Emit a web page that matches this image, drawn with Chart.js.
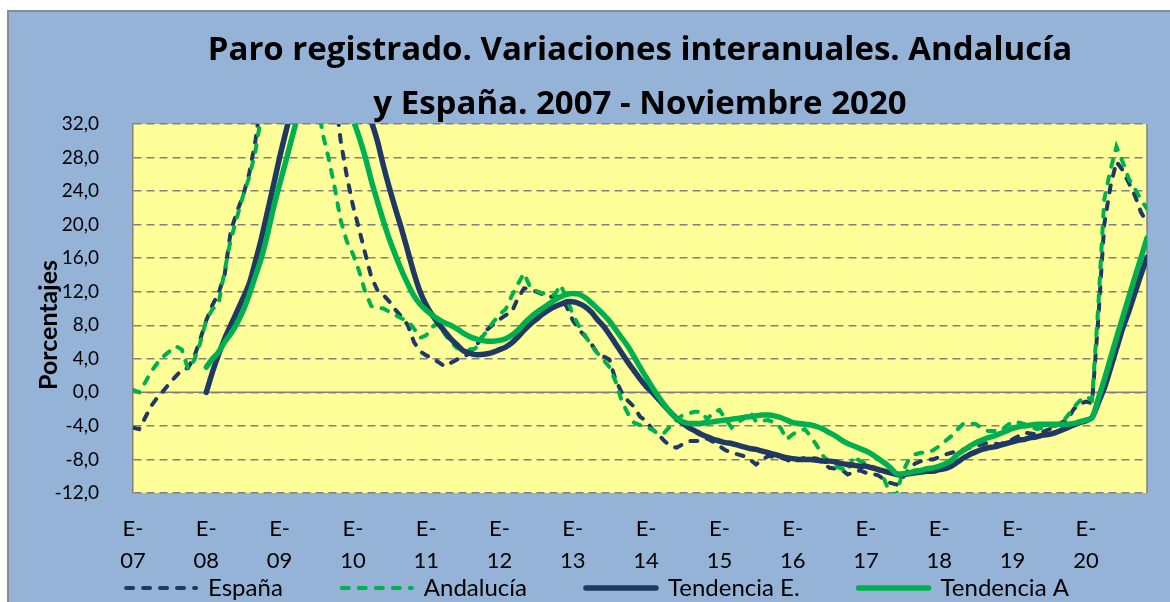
<!DOCTYPE html>
<html lang="es">
<head>
<meta charset="utf-8">
<title>Paro registrado. Variaciones interanuales</title>
<script src="https://cdn.jsdelivr.net/npm/chart.js@4.4.1/dist/chart.umd.min.js"></script>
<style>
  html, body { margin: 0; padding: 0; background: #ffffff; }
  #wrap { position: relative; width: 1170px; height: 602px; overflow: hidden; }
  #frame {
    position: absolute; left: 7px; top: 10px; width: 1200px; height: 640px;
    background: #95B3D7; border-top: 2px solid #8c8c8c; border-left: 2px solid #8c8c8c;
  }
  #paroChart { position: absolute; left: 0; top: 0; }
</style>
</head>
<body>
<div id="wrap">
  <div id="frame"></div>
  <canvas id="paroChart" width="1170" height="602"></canvas>
</div>
<script>
// years shown on the axis (E- = enero)
const years = ['07', '08', '09', '10', '11', '12', '13', '14', '15', '16', '17', '18', '19', '20'];
const lastMonth = 11; // noviembre 2020

const categories = [];
years.forEach((yy, k) => {
  const months = k === years.length - 1 ? lastMonth : 12;
  for (let m = 1; m <= months; m++) categories.push(m + '-' + yy);
});

// monthly year-on-year change, %
const espana = [
  -4.2, -4.4, -3.0, -1.6, -0.6, 0.2, 1.1, 1.9, 2.7, 2.9, 4.2, 6.3,
  8.6, 10.4, 11.8, 14.0, 19.2, 21.5, 23.4, 26.0, 29.8, 35.0, 40.0, 45.0,
  48.0, 51.0, 55.0, 58.0, 57.0, 56.0, 53.0, 48.0, 42.0, 36.0, 30.0, 25.8,
  22.3, 19.5, 16.6, 13.8, 12.2, 11.6, 10.8, 9.8, 9.0, 8.0, 6.0, 4.9,
  4.4, 4.1, 3.6, 3.1, 3.5, 3.9, 4.2, 4.6, 5.3, 6.5, 7.5, 8.1,
  8.7, 9.2, 9.6, 11.2, 12.4, 12.3, 12.0, 11.7, 11.4, 11.4, 11.4, 10.2,
  8.6, 7.5, 6.7, 5.8, 4.7, 4.3, 3.9, 1.5, 0.0, -1.0, -1.7, -2.9,
  -3.4, -4.4, -5.0, -5.8, -6.4, -6.6, -6.2, -5.8, -5.8, -5.8, -5.5, -5.9,
  -6.4, -6.9, -7.2, -7.4, -7.6, -8.0, -8.6, -8.0, -7.6, -7.7, -7.8, -8.0,
  -8.4, -8.0, -7.8, -7.8, -7.9, -8.4, -9.0, -9.1, -9.2, -9.8, -9.5, -9.3,
  -9.6, -9.7, -9.9, -10.4, -10.8, -11.0, -10.2, -9.2, -8.5, -8.2, -8.0, -8.0,
  -7.7, -7.4, -7.2, -7.0, -6.8, -6.6, -6.4, -6.2, -6.0, -6.1, -6.2, -5.8,
  -5.6, -5.2, -4.8, -4.9, -5.0, -4.7, -4.4, -4.0, -3.6, -3.3, -2.0, -1.4,
  -1.1, -1.3, 8.5, 20.0, 24.5, 27.5, 26.5, 25.0, 23.5, 21.5, 20.2
];

const andalucia = [
  0.3, 0.0, 1.2, 2.5, 3.5, 4.3, 4.9, 5.5, 5.1, 2.8, 3.8, 5.9,
  8.6, 9.9, 10.6, 14.5, 18.2, 20.8, 23.4, 25.6, 28.6, 33.0, 38.0, 42.0,
  45.0, 47.0, 48.0, 48.0, 46.0, 42.0, 36.0, 31.0, 28.0, 24.5, 20.5, 18.0,
  16.5, 14.5, 12.0, 10.3, 10.1, 10.0, 9.6, 9.2, 8.8, 8.5, 7.6, 6.5,
  6.8, 7.8, 8.3, 7.0, 6.0, 5.3, 5.1, 5.1, 5.2, 6.4, 7.4, 8.4,
  9.3, 9.9, 11.5, 12.9, 14.2, 12.6, 12.1, 11.8, 11.7, 11.6, 12.8, 11.2,
  9.3, 7.9, 6.8, 5.6, 4.7, 3.9, 3.0, 1.3, -1.0, -2.5, -3.6, -3.9,
  -4.2, -4.4, -5.0, -4.8, -4.0, -3.3, -2.7, -2.5, -2.3, -2.3, -3.2, -2.4,
  -2.1, -3.2, -4.2, -3.6, -3.1, -2.3, -3.5, -3.4, -3.3, -3.6, -4.2, -5.6,
  -5.0, -4.6, -4.4, -5.3, -6.4, -7.6, -8.3, -8.8, -9.1, -9.4, -7.6, -8.2,
  -8.5, -8.8, -9.2, -10.4, -12.2, -12.1, -9.5, -8.0, -7.4, -7.2, -7.2, -6.9,
  -6.4, -5.8, -5.2, -4.4, -3.7, -3.7, -3.8, -4.3, -4.6, -4.6, -4.6, -4.0,
  -3.5, -3.6, -3.8, -4.1, -4.4, -4.2, -4.0, -4.0, -3.7, -2.8, -1.8, -1.0,
  -0.5, -0.9, 10.0, 23.0, 26.5, 29.3, 27.5, 25.5, 24.3, 23.0, 21.9
];

const tendenciaE = [
  null, null, null, null, null, null, null, null, null, null, null, null,
  0.0, 2.4, 4.5, 6.4, 8.0, 9.6, 11.2, 12.9, 15.5, 18.3, 21.5, 24.7,
  28.0, 31.0, 34.0, 37.0, 40.0, 42.0, 44.0, 45.0, 45.0, 44.0, 42.0, 40.0,
  38.0, 36.0, 34.0, 32.3, 30.0, 27.0, 24.3, 21.8, 19.4, 16.8, 14.2, 12.0,
  10.4, 9.2, 8.2, 7.3, 6.4, 5.7, 5.0, 4.7, 4.5, 4.5, 4.6, 4.8,
  5.1, 5.4, 5.9, 6.6, 7.4, 8.1, 8.7, 9.3, 9.8, 10.2, 10.5, 10.8,
  10.8, 10.6, 10.2, 9.6, 8.7, 7.9, 6.9, 5.8, 4.7, 3.6, 2.6, 1.6,
  0.7, 0.0, -0.8, -1.6, -2.4, -3.1, -3.7, -4.2, -4.6, -5.0, -5.3, -5.6,
  -5.8, -6.0, -6.1, -6.3, -6.5, -6.7, -6.8, -7.0, -7.2, -7.4, -7.6, -7.8,
  -7.9, -8.0, -8.0, -8.0, -8.1, -8.2, -8.2, -8.3, -8.5, -8.6, -8.7, -8.8,
  -8.8, -9.0, -9.2, -9.4, -9.6, -9.8, -9.8, -9.7, -9.6, -9.5, -9.4, -9.4,
  -9.2, -9.1, -8.8, -8.3, -7.8, -7.4, -7.1, -6.8, -6.6, -6.5, -6.3, -6.1,
  -5.9, -5.7, -5.6, -5.4, -5.3, -5.1, -5.0, -4.8, -4.5, -4.2, -3.9, -3.6,
  -3.4, -3.0, -1.3, 0.5, 2.8, 5.2, 7.6, 9.6, 11.8, 14.0, 16.1
];

const tendenciaA = [
  null, null, null, null, null, null, null, null, null, null, null, null,
  3.0, 4.0, 4.8, 6.0, 7.0, 8.2, 9.7, 11.6, 13.8, 16.0, 18.8, 22.0,
  24.8, 27.5, 30.3, 33.0, 35.5, 37.0, 38.0, 38.5, 38.0, 37.0, 35.5, 34.0,
  32.5, 30.5, 28.1, 25.3, 22.8, 20.4, 18.2, 16.3, 14.5, 12.9, 11.5, 10.5,
  9.8, 9.2, 8.7, 8.3, 8.0, 7.6, 7.1, 6.7, 6.4, 6.2, 6.1, 6.1,
  6.2, 6.4, 6.8, 7.4, 8.2, 8.9, 9.5, 10.0, 10.5, 11.0, 11.4, 11.7,
  11.8, 11.7, 11.3, 10.7, 10.0, 9.3, 8.5, 7.5, 6.5, 5.5, 4.3, 3.0,
  1.8, 0.6, -0.5, -1.5, -2.4, -3.1, -3.5, -3.7, -3.7, -3.7, -3.6, -3.5,
  -3.4, -3.3, -3.2, -3.1, -3.0, -2.9, -2.8, -2.7, -2.7, -2.8, -3.0, -3.3,
  -3.6, -3.7, -3.8, -3.9, -4.1, -4.4, -4.8, -5.2, -5.7, -6.1, -6.4, -6.7,
  -7.0, -7.4, -7.9, -8.4, -9.0, -9.7, -9.7, -9.6, -9.4, -9.3, -9.1, -9.0,
  -8.8, -8.5, -8.1, -7.4, -6.9, -6.4, -6.0, -5.7, -5.4, -5.2, -4.9, -4.6,
  -4.3, -4.1, -4.0, -3.9, -3.8, -3.8, -3.8, -3.8, -3.8, -3.8, -3.7, -3.5,
  -3.3, -3.0, -0.8, 1.5, 4.0, 6.5, 8.9, 11.3, 13.7, 16.0, 18.4
];

const yMin = -12;
const yMax = 32;
const yStep = 4;

const NAVY = '#1F3864';
const GREEN = '#00B050';
const GRID = '#808080';

Chart.defaults.font.family = 'Lato, "Open Sans", sans-serif';
Chart.defaults.color = '#000000';

// yellow plot area, solid zero line and right edge, rotated axis title
const plotDecor = {
  id: 'plotDecor',
  beforeDraw(chart) {
    const { ctx, chartArea: a } = chart;
    ctx.save();
    ctx.fillStyle = '#FFFF99';
    ctx.fillRect(a.left, a.top, a.right - a.left, a.bottom - a.top);
    ctx.restore();
  },
  beforeDatasetsDraw(chart) {
    const { ctx, chartArea: a, scales } = chart;
    const y0 = scales.y.getPixelForValue(0);
    ctx.save();
    ctx.strokeStyle = GRID;
    ctx.lineWidth = 1.5;
    ctx.beginPath();
    ctx.moveTo(a.left, y0);
    ctx.lineTo(a.right, y0);
    ctx.moveTo(a.right, a.top);
    ctx.lineTo(a.right, a.bottom);
    ctx.stroke();
    ctx.restore();
  },
  afterDraw(chart) {
    const { ctx } = chart;
    ctx.save();
    ctx.translate(49, 325);
    ctx.rotate(-Math.PI / 2);
    ctx.font = 'bold 25px Lato, "Open Sans", sans-serif';
    ctx.fillStyle = '#000000';
    ctx.textAlign = 'center';
    ctx.textBaseline = 'middle';
    ctx.fillText('Porcentajes', 0, 0);
    ctx.restore();
  }
};

const dashedLine = {
  borderWidth: 4,
  borderDash: [7, 10],
  borderCapStyle: 'round',
  pointRadius: 0,
  tension: 0,
  clip: 0
};

const solidLine = {
  borderWidth: 5.5,
  borderCapStyle: 'round',
  borderJoinStyle: 'round',
  pointRadius: 0,
  tension: 0.3,
  clip: 0
};

// legend samples take the dash and width of the line itself
function legendLabels(chart) {
  const items = Chart.defaults.plugins.legend.labels.generateLabels(chart);
  items.forEach((item) => {
    const ds = chart.data.datasets[item.datasetIndex];
    item.lineDash = ds.borderDash || [];
    item.lineWidth = ds.borderWidth;
    item.lineCap = ds.borderCapStyle;
    item.strokeStyle = ds.borderColor;
  });
  return items;
}

new Chart(document.getElementById('paroChart'), {
  type: 'line',
  data: {
    labels: categories,
    datasets: [
      { label: 'España', data: espana, borderColor: NAVY, backgroundColor: NAVY, order: 4, ...dashedLine },
      { label: 'Andalucía', data: andalucia, borderColor: GREEN, backgroundColor: GREEN, order: 3, ...dashedLine },
      { label: 'Tendencia E.', data: tendenciaE, borderColor: NAVY, backgroundColor: NAVY, order: 2, ...solidLine },
      { label: 'Tendencia A', data: tendenciaA, borderColor: GREEN, backgroundColor: GREEN, order: 1, ...solidLine }
    ]
  },
  options: {
    responsive: false,
    devicePixelRatio: 1,
    animation: false,
    layout: { padding: { left: 48, right: 23, top: 0, bottom: -8 } },
    plugins: {
      title: {
        display: true,
        text: ['Paro registrado. Variaciones interanuales. Andalucía', 'y España. 2007 - Noviembre 2020'],
        fullSize: false,
        color: '#000000',
        font: { family: '"Open Sans", Lato, sans-serif', size: 33, weight: 'bold', lineHeight: 1.63 },
        padding: { top: 24, bottom: -7.6 }
      },
      legend: {
        display: true,
        position: 'bottom',
        labels: {
          usePointStyle: true,
          pointStyle: 'line',
          pointStyleWidth: 70,
          padding: 59,
          color: '#000000',
          font: { size: 24 },
          generateLabels: legendLabels,
          sort: (a, b) => a.datasetIndex - b.datasetIndex
        }
      },
      tooltip: { enabled: false }
    },
    scales: {
      x: {
        type: 'category',
        offset: false,
        grid: { display: false },
        border: { display: false },
        ticks: {
          autoSkip: false,
          maxRotation: 0,
          minRotation: 0,
          // mirrored so the two-line labels are not clipped to the thin axis box
          mirror: true,
          padding: -52,
          color: '#000000',
          font: { size: 22, lineHeight: 1.48 },
          callback(value, index) {
            const cat = categories[index];
            return cat.startsWith('1-') ? ['E-', cat.slice(2)] : null;
          }
        },
        afterFit(scale) { scale.height = 24; }
      },
      y: {
        min: yMin,
        max: yMax,
        grid: { color: GRID, lineWidth: 1.5, drawTicks: false },
        border: { display: true, color: GRID, width: 1.5, dash: [8, 5] },
        ticks: {
          stepSize: yStep,
          padding: 34,
          color: '#000000',
          font: { size: 19 },
          callback: (v) => v.toFixed(1).replace('.', ',')
        },
        afterFit(scale) { scale.width = 85; }
      }
    }
  },
  plugins: [plotDecor]
});
</script>
</body>
</html>
